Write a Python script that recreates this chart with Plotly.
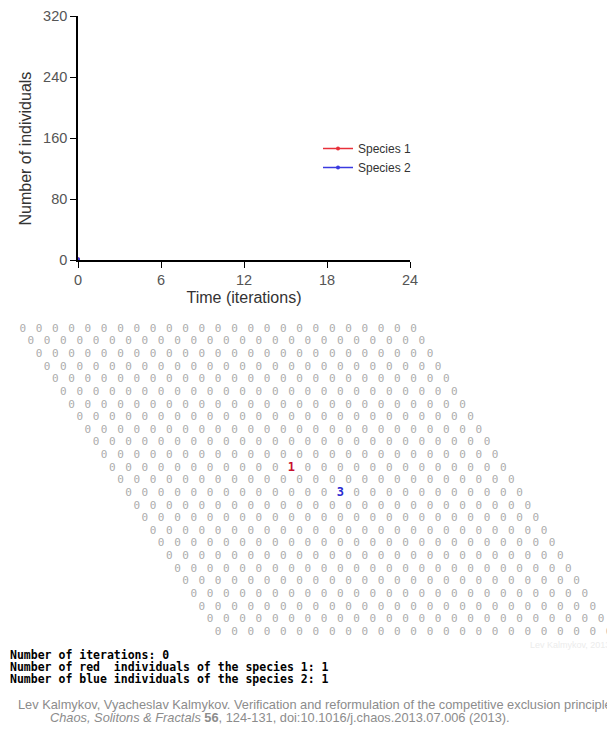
import plotly.graph_objects as go

# ---- chart data (iteration 0) ----
time_iter = [0]
species1 = [1]
species2 = [1]
x_ticks = [0, 6, 12, 18, 24]
y_ticks = [0, 80, 160, 240, 320]

# ---- lattice states (25 x 25 rhombic grid) ----
lattice = [
    "0000000000000000000000000",
    "0000000000000000000000000",
    "0000000000000000000000000",
    "0000000000000000000000000",
    "0000000000000000000000000",
    "0000000000000000000000000",
    "0000000000000000000000000",
    "0000000000000000000000000",
    "0000000000000000000000000",
    "0000000000000000000000000",
    "0000000000000000000000000",
    "0000000000010000000000000",
    "0000000000000000000000000",
    "0000000000000300000000000",
    "0000000000000000000000000",
    "0000000000000000000000000",
    "0000000000000000000000000",
    "0000000000000000000000000",
    "0000000000000000000000000",
    "0000000000000000000000000",
    "0000000000000000000000000",
    "0000000000000000000000000",
    "0000000000000000000000000",
    "0000000000000000000000000",
    "0000000000000000000000000",
]
state_colors = {"0": "#acacac", "1": "#c8102e", "3": "#2b2bd0"}

info_lines = [
    "Number of iterations: 0",
    "Number of red  individuals of the species 1: 1",
    "Number of blue individuals of the species 2: 1",
]
citation = [
    "Lev Kalmykov, Vyacheslav Kalmykov. Verification and reformulation of the competitive exclusion principle",
    "<i>Chaos, Solitons &amp; Fractals</i> <b>56</b>, 124-131, doi:10.1016/j.chaos.2013.07.006 (2013).",
]

# page body has an 8px margin: the figure is sized to fill the rest of the window
OFF = 8
W, H = 615 - OFF, 729 - OFF


def px(x):  # window x -> paper fraction
    return (x - OFF) / W


def py(y):  # window y -> paper fraction
    return 1 - (y - OFF) / H


fig = go.Figure()

fig.add_trace(go.Scatter(x=time_iter, y=species1, name="Species 1", mode="lines+markers",
                         line=dict(color="#e8303a", width=1.5), marker=dict(size=4, color="#e8303a")))
fig.add_trace(go.Scatter(x=time_iter, y=species2, name="Species 2", mode="lines+markers",
                         line=dict(color="#3a3ae0", width=1.5), marker=dict(size=4, color="#3a3ae0")))

# lattice as text marks on a second axis pair (lattice units)
for state, color in state_colors.items():
    xs, ys, ts = [], [], []
    for r, row in enumerate(lattice):
        for c, ch in enumerate(row):
            if ch == state:
                xs.append(c + 0.5 * r)
                ys.append(r)
                ts.append(ch)
    fig.add_trace(go.Scatter(
        x=xs, y=ys, text=ts, mode="text", xaxis="x2", yaxis="y2", showlegend=False,
        hoverinfo="skip",
        textfont=dict(family="DejaVu Sans Mono", size=11 if state == "0" else 12,
                      color=color, weight="normal" if state == "0" else "bold"),
    ))

# lattice geometry in window pixels: first cell, column step, row step
lx0, ly0, dcol, drow = 22.7, 329.0, 16.29, 12.625

fig.update_layout(
    width=W, height=H, margin=dict(l=0, r=0, t=0, b=0, autoexpand=False),
    paper_bgcolor="white", plot_bgcolor="rgba(0,0,0,0)",
    font=dict(family="Liberation Sans, Arial", color="#444"),
    xaxis=dict(domain=[px(78), px(410)], range=[0, 24], tickvals=x_ticks,
               showline=True, linecolor="black", linewidth=1.8, ticks="outside",
               ticklen=6, tickcolor="black", tickwidth=1.3, showgrid=False, zeroline=False,
               tickfont=dict(size=14.5, color="#555"), automargin=False,
               title=dict(text="Time (iterations)", font=dict(size=16, color="#333"), standoff=5),
               anchor="y", fixedrange=True),
    yaxis=dict(domain=[py(260), py(16)], range=[0, 320], tickvals=y_ticks,
               showline=True, linecolor="black", linewidth=1.6, ticks="outside",
               ticklen=6, tickcolor="black", tickwidth=1.3, showgrid=False, zeroline=False,
               tickfont=dict(size=14.5, color="#555"), automargin=False,
               anchor="x", fixedrange=True),
    xaxis2=dict(domain=[0, 1], range=[-(lx0 - OFF) / dcol, (W - (lx0 - OFF)) / dcol],
                visible=False, anchor="y2", fixedrange=True, automargin=False),
    yaxis2=dict(domain=[0, 1], range=[(H - (ly0 - OFF)) / drow, -(ly0 - OFF) / drow],
                visible=False, anchor="x2", fixedrange=True, automargin=False),
    legend=dict(x=px(318), y=py(134), xanchor="left", yanchor="top",
                bgcolor="rgba(0,0,0,0)", font=dict(size=12, color="#333"),
                itemwidth=30, tracegroupgap=0),
    showlegend=True,
)

# y-axis title (placed as in the reference, slightly below the axis centre)
fig.add_annotation(text="Number of individuals", textangle=-90, x=px(24.5), y=py(149),
                   xref="paper", yref="paper", xanchor="center", yanchor="middle",
                   showarrow=False, font=dict(size=16, color="#333"))

for i, line in enumerate(info_lines):
    fig.add_annotation(text="<b>" + line + "</b>", x=px(8), y=py(655 + 12 * i),
                       xref="paper", yref="paper", xanchor="left", yanchor="middle",
                       showarrow=False, font=dict(family="DejaVu Sans Mono", size=11.5, color="black"))

fig.add_annotation(text=citation[0], x=px(16), y=py(704), xref="paper", yref="paper",
                   xanchor="left", yanchor="middle", showarrow=False,
                   font=dict(family="Liberation Sans, Arial", size=12.8, color="#8c8c8c"))
fig.add_annotation(text=citation[1], x=px(48), y=py(717), xref="paper", yref="paper",
                   xanchor="left", yanchor="middle", showarrow=False,
                   font=dict(family="Liberation Sans, Arial", size=12.8, color="#8c8c8c"))
fig.add_annotation(text="Lev Kalmykov, 2013", x=px(612), y=py(645), xref="paper", yref="paper",
                   xanchor="right", yanchor="middle", showarrow=False,
                   font=dict(family="Liberation Sans, Arial", size=9, color="#ececec"))

fig.write_html("out.html")
